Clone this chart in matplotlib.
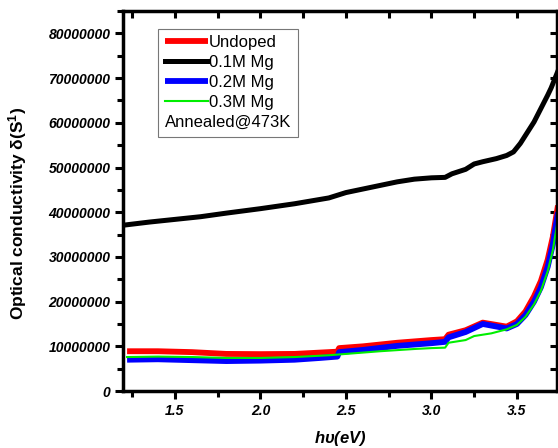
import matplotlib
matplotlib.use("Agg")
import matplotlib.pyplot as plt
from matplotlib.ticker import MultipleLocator, AutoMinorLocator

plt.rcParams['font.family'] = ['Liberation Sans', 'DejaVu Sans']

# photon energy (eV) and optical conductivity (S^-1)
x_black = [1.22, 1.35, 1.5, 1.65, 1.8, 2.0, 2.2, 2.4, 2.5, 2.65, 2.8, 2.9, 3.0, 3.08, 3.12, 3.2, 3.25,
           3.3, 3.38, 3.44, 3.48, 3.52, 3.56, 3.6, 3.64, 3.68, 3.7, 3.74]
y_black = [37.2e6, 37.8e6, 38.4e6, 39.0e6, 39.8e6, 40.8e6, 41.9e6, 43.2e6, 44.4e6, 45.6e6, 46.8e6, 47.4e6,
           47.7e6, 47.8e6, 48.6e6, 49.6e6, 50.8e6, 51.3e6, 52.0e6, 52.7e6, 53.5e6, 55.4e6, 57.8e6, 60.2e6,
           63.2e6, 66.2e6, 67.8e6, 71.6e6]

x_red = [1.22, 1.4, 1.6, 1.8, 2.0, 2.2, 2.35, 2.45, 2.46, 2.6, 2.8, 3.0, 3.08, 3.1, 3.2, 3.3, 3.44, 3.5,
         3.55, 3.6, 3.64, 3.68, 3.71, 3.74]
y_red = [8.9e6, 8.9e6, 8.7e6, 8.3e6, 8.25e6, 8.3e6, 8.6e6, 8.8e6, 9.6e6, 10.0e6, 10.8e6, 11.4e6, 11.6e6,
         12.6e6, 13.6e6, 15.3e6, 14.4e6, 15.6e6, 17.8e6, 21.2e6, 24.6e6, 29.4e6, 34.5e6, 41.5e6]

x_blue = [1.22, 1.4, 1.6, 1.8, 2.0, 2.2, 2.35, 2.45, 2.46, 2.6, 2.8, 3.0, 3.08, 3.1, 3.2, 3.3, 3.44, 3.5,
          3.55, 3.6, 3.64, 3.68, 3.71, 3.74]
y_blue = [7.0e6, 7.1e6, 6.9e6, 6.7e6, 6.8e6, 7.0e6, 7.4e6, 7.7e6, 8.7e6, 9.2e6, 10.1e6, 10.7e6, 11.0e6,
          12.0e6, 13.2e6, 15.0e6, 14.0e6, 15.0e6, 17.0e6, 20.0e6, 23.2e6, 27.8e6, 32.8e6, 40.0e6]

x_green = [1.22, 1.4, 1.6, 1.8, 2.0, 2.2, 2.4, 2.5, 2.7, 2.9, 3.0, 3.08, 3.1, 3.2, 3.25, 3.35, 3.44,
           3.5, 3.55, 3.6, 3.64, 3.68, 3.71, 3.74]
y_green = [7.6e6, 7.7e6, 7.6e6, 7.4e6, 7.4e6, 7.6e6, 8.0e6, 8.3e6, 8.9e6, 9.4e6, 9.6e6, 9.7e6, 10.8e6,
           11.4e6, 12.3e6, 12.9e6, 13.8e6, 14.8e6, 16.6e6, 19.4e6, 22.4e6, 26.8e6, 31.5e6, 38.5e6]

fig = plt.figure(figsize=(5.58, 4.48), dpi=100)
ax = fig.add_axes([0.2204, 0.1272, 0.778, 0.848])

ax.plot(x_red, y_red, color='#ff0000', lw=4.2, label='Undoped', solid_capstyle='butt')
ax.plot(x_black, y_black, color='black', lw=3.6, label='0.1M Mg')
ax.plot(x_blue, y_blue, color='#0000ff', lw=4.2, label='0.2M Mg', solid_capstyle='butt')
ax.plot(x_green, y_green, color='#00ee00', lw=1.5, label='0.3M Mg')

ax.set_xlim(1.196, 3.735)
ax.set_ylim(0, 85e6)

ax.xaxis.set_major_locator(MultipleLocator(0.5))
ax.xaxis.set_minor_locator(AutoMinorLocator(2))
ax.yaxis.set_major_locator(MultipleLocator(10e6))
ax.yaxis.set_minor_locator(AutoMinorLocator(2))
ax.ticklabel_format(axis='y', style='plain', useOffset=False)

ax.tick_params(which='major', direction='out', length=6, width=2.2, pad=3, labelsize=10)
ax.tick_params(which='minor', direction='out', length=4, width=2.2)
for lab in ax.get_xticklabels() + ax.get_yticklabels():
    lab.set_fontweight('bold')
    lab.set_fontstyle('italic')

for s in ax.spines.values():
    s.set_linewidth(2.5)

top = ax.secondary_xaxis('top')
top.xaxis.set_major_locator(MultipleLocator(0.5))
top.xaxis.set_minor_locator(AutoMinorLocator(2))
top.tick_params(which='both', direction='in', length=5, width=2.2, labeltop=False)
right = ax.secondary_yaxis('right')
right.yaxis.set_major_locator(MultipleLocator(10e6))
right.yaxis.set_minor_locator(AutoMinorLocator(2))
right.tick_params(which='both', direction='in', length=5, width=2.2, labelright=False)

ax.set_ylabel(r'Optical conductivity $\mathregular{\delta(S^{1})}$', fontsize=12.5, fontweight='bold')
ax.yaxis.set_label_coords(-0.216, 0.467)
ax.set_xlabel(r'$\mathregular{h\upsilon}$(eV)', fontsize=12, fontweight='bold', fontstyle='italic')
ax.xaxis.set_label_coords(0.5, -0.1)

leg = ax.legend(loc='upper left', bbox_to_anchor=(0.062, 0.976), fontsize=12,
                title='Annealed@473K', title_fontsize=12, alignment='left',
                handlelength=2.6, handletextpad=0.05, labelspacing=0.3,
                borderpad=0.4, frameon=True, fancybox=False, edgecolor='#555555')
leg.get_frame().set_linewidth(0.8)
# put the annotation line under the entries, like the original
box = leg._legend_box
box._children = box._children[::-1]

fig.savefig('out.png', dpi=100)
